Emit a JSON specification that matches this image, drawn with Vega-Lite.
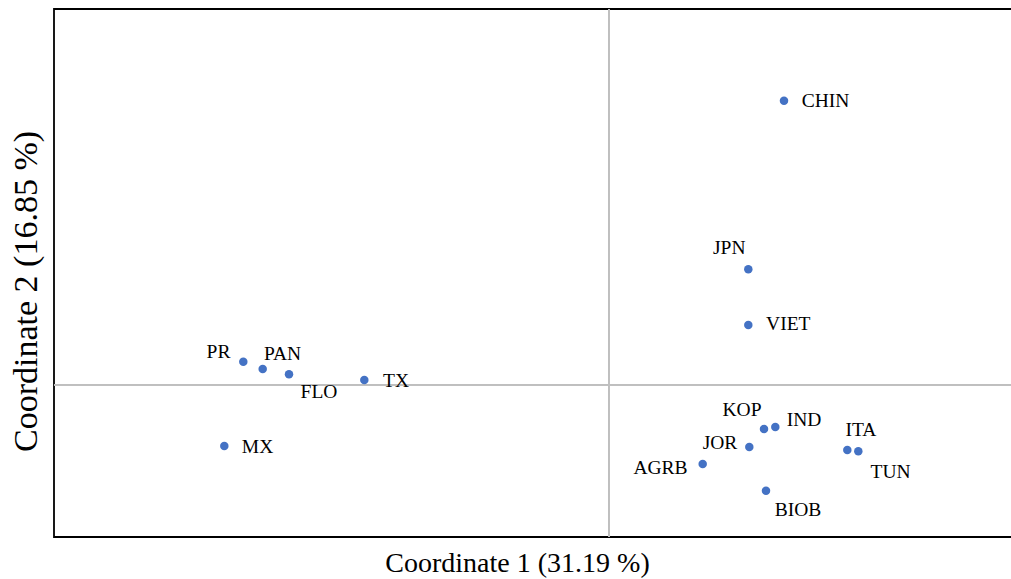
{
  "$schema": "https://vega.github.io/schema/vega-lite/v6.json",
  "autosize": {"type": "none"},
  "padding": {"left": 54, "top": 9, "right": 0, "bottom": 42},
  "width": 960,
  "height": 528,
  "background": "white",
  "config": {
    "view": {"stroke": "black", "strokeWidth": 1.8},
    "font": "Liberation Serif"
  },
  "data": {
    "values": [
      {"site": "CHIN", "c1": 0.175, "c2": 0.2843, "lx": 0.2165, "ly": 0.284},
      {"site": "JPN", "c1": 0.1393, "c2": 0.1157, "lx": 0.1203, "ly": 0.1367},
      {"site": "VIET", "c1": 0.1393, "c2": 0.060, "lx": 0.1793, "ly": 0.0607},
      {"site": "PR", "c1": -0.3657, "c2": 0.0233, "lx": -0.3905, "ly": 0.0335},
      {"site": "PAN", "c1": -0.3463, "c2": 0.016, "lx": -0.3265, "ly": 0.0313},
      {"site": "FLO", "c1": -0.320, "c2": 0.0107, "lx": -0.290, "ly": -0.0065},
      {"site": "TX", "c1": -0.2447, "c2": 0.005, "lx": -0.213, "ly": 0.0045},
      {"site": "MX", "c1": -0.3847, "c2": -0.061, "lx": -0.3515, "ly": -0.0615},
      {"site": "KOP", "c1": 0.155, "c2": -0.044, "lx": 0.133, "ly": -0.025},
      {"site": "IND", "c1": 0.1663, "c2": -0.042, "lx": 0.195, "ly": -0.035},
      {"site": "JOR", "c1": 0.1403, "c2": -0.062, "lx": 0.111, "ly": -0.0575},
      {"site": "AGRB", "c1": 0.0937, "c2": -0.079, "lx": 0.0515, "ly": -0.083},
      {"site": "ITA", "c1": 0.2383, "c2": -0.065, "lx": 0.252, "ly": -0.045},
      {"site": "TUN", "c1": 0.2493, "c2": -0.0663, "lx": 0.2815, "ly": -0.087},
      {"site": "BIOB", "c1": 0.157, "c2": -0.1057, "lx": 0.189, "ly": -0.125}
    ]
  },
  "layer": [
    {
      "mark": {"type": "rule", "color": "#BFBFBF", "strokeWidth": 1},
      "encoding": {"x": {"datum": 0, "type": "quantitative"}}
    },
    {
      "mark": {"type": "rule", "color": "#BFBFBF", "strokeWidth": 1},
      "encoding": {"y": {"datum": 0, "type": "quantitative"}}
    },
    {
      "mark": {"type": "point", "filled": true, "size": 72, "opacity": 1, "color": "#4472C4"},
      "encoding": {
        "x": {
          "field": "c1", "type": "quantitative",
          "scale": {"domain": [-0.555, 0.405], "nice": false, "zero": false},
          "axis": {
            "title": "Coordinate 1 (31.19 %)",
            "domain": false, "ticks": false, "labels": false, "grid": false,
            "titleFont": "Liberation Serif", "titleFontSize": 28, "titleFontWeight": "normal",
            "titleColor": "black", "titleX": 463, "titleY": 34, "titleBaseline": "alphabetic"
          }
        },
        "y": {
          "field": "c2", "type": "quantitative",
          "scale": {"domain": [-0.152, 0.376], "nice": false, "zero": false},
          "axis": {
            "title": "Coordinate 2 (16.85 %)",
            "domain": false, "ticks": false, "labels": false, "grid": false,
            "titleFont": "Liberation Serif", "titleFontSize": 34, "titleFontWeight": "normal",
            "titleColor": "black", "titleX": -18, "titleY": 282, "titleBaseline": "alphabetic"
          }
        }
      }
    },
    {
      "mark": {"type": "text", "font": "Liberation Serif", "fontSize": 19.5, "color": "black", "align": "center", "baseline": "middle"},
      "encoding": {
        "x": {"field": "lx", "type": "quantitative"},
        "y": {"field": "ly", "type": "quantitative"},
        "text": {"field": "site"}
      }
    }
  ]
}
